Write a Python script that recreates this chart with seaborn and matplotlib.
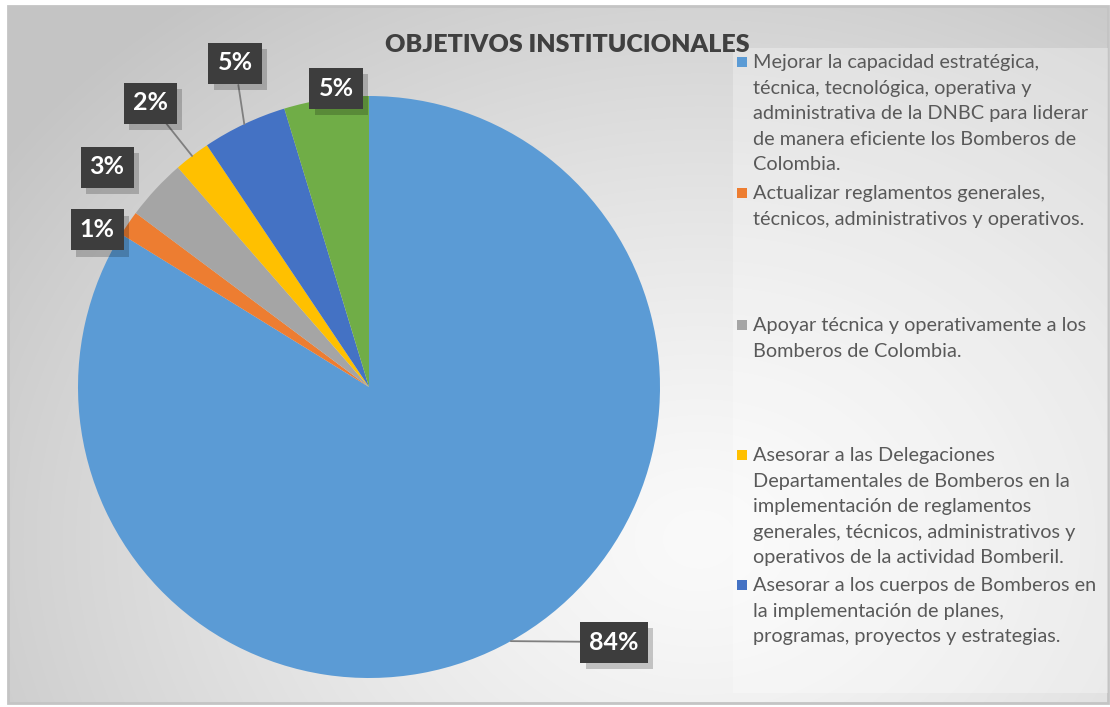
import numpy as np
import matplotlib
matplotlib.use("Agg")
import matplotlib.pyplot as plt
import matplotlib.patheffects as pe
from matplotlib.patches import Rectangle
import seaborn as sns

# ---------------- data ----------------
title = "OBJETIVOS INSTITUCIONALES"
categories = [
    "Mejorar la capacidad estratégica,\ntécnica, tecnológica, operativa y\nadministrativa de la DNBC para liderar\nde manera eficiente los Bomberos de\nColombia.",
    "Actualizar reglamentos generales,\ntécnicos, administrativos y operativos.",
    "Apoyar técnica y operativamente a los\nBomberos de Colombia.",
    "Asesorar a las Delegaciones\nDepartamentales de Bomberos en la\nimplementación de reglamentos\ngenerales, técnicos, administrativos y\noperativos de la actividad Bomberil.",
    "Asesorar a los cuerpos de Bomberos en\nla implementación de planes,\nprogramas, proyectos y estrategias.",
    "",
]
shares = [83.8, 1.4, 3.4, 2.0, 4.7, 4.7]
pct_labels = ["84%", "1%", "3%", "2%", "5%", "5%"]
colors_hex = ["#5B9BD5", "#ED7D31", "#A5A5A5", "#FFC000", "#4472C4", "#70AD47"]

# ---------------- style ----------------
sns.set_theme(style="white")
plt.rcParams["font.family"] = ["Lato", "DejaVu Sans"]
palette = sns.color_palette(colors_hex)

W, H = 1110, 707
fig = plt.figure(figsize=(W / 100, H / 100), dpi=100)
fig.patch.set_facecolor("white")

# background gradient
ax_bg = fig.add_axes([0, 0, 1, 1], zorder=-10)
ax_bg.set_xlim(0, W)
ax_bg.set_ylim(H, 0)
ax_bg.axis("off")
gx, gy = np.meshgrid(np.linspace(8, 1108, 400), np.linspace(6, 703, 300))
d = np.sqrt(((gx - 700) / 1000) ** 2 + ((gy - 540) / 800) ** 2)
d = np.clip(d / 0.85, 0, 1)
lo, hi = 0.98, 0.77
val = lo + (hi - lo) * d ** 1.3
img = np.dstack([val, val, val])
ax_bg.imshow(img, extent=[8, 1108, 703, 6], aspect="auto", interpolation="bilinear")
ax_bg.add_patch(Rectangle((8, 6), 1100, 697, fill=False, edgecolor="#c4c4c4", lw=2))
# legend backdrop
ax_bg.add_patch(Rectangle((733, 48), 375, 645, facecolor="white", alpha=0.3, lw=0))

# pie axes
cx, cy, R = 369, 387, 291
ax = fig.add_axes([(cx - R) / W, (H - cy - R) / H, 2 * R / W, 2 * R / H])
wedges, _ = ax.pie(shares, colors=palette, startangle=90, counterclock=False,
                   radius=1, wedgeprops=dict(linewidth=0))
ax.set_xlim(-1, 1)
ax.set_ylim(-1, 1)
ax.set_aspect("equal")
ax.axis("off")

# data labels (pixel positions of box centres) and leader lines
def px2d(px, py):
    return ((px - cx) / R, (cy - py) / R)

label_pos = [(614, 642), (97, 230), (107, 167), (150, 103), (235, 63), (336, 88)]
has_leader = [True, False, False, True, True, False]
for w, lab, pos, lead in zip(wedges, pct_labels, label_pos, has_leader):
    ang = np.deg2rad((w.theta1 + w.theta2) / 2)
    edge = (np.cos(ang), np.sin(ang))
    tx, ty = px2d(*pos)
    if lead:
        ax.annotate("", xy=edge, xytext=(tx, ty), xycoords="data",
                    arrowprops=dict(arrowstyle="-", color="#7f7f7f", lw=1.3,
                                    shrinkA=16, shrinkB=0), annotation_clip=False)
    t = ax.text(tx, ty, lab, ha="center", va="center", fontsize=18,
                fontweight="bold", color="white", clip_on=False,
                bbox=dict(boxstyle="square,pad=0.36", facecolor="#3d3d3d", lw=0))
    t.get_bbox_patch().set_path_effects(
        [pe.SimplePatchShadow(offset=(4, -5), shadow_rgbFace="black", alpha=0.2),
         pe.Normal()])

# title
fig.text(567 / W, 1 - 45 / H, title, ha="center", va="center", fontsize=18,
         fontweight="heavy", color="#404040")

# legend (manual, Excel-like spacing)
legend_top = [62, 193, 325, 455, 585]
for lab, col, ytop in zip(categories[:5], palette[:5], legend_top):
    ax_bg.add_patch(Rectangle((737, ytop - 5), 10, 10, facecolor=col, lw=0))
    ax_bg.text(753, ytop - 8, lab, ha="left", va="top", fontsize=14.3,
               color="#595959", linespacing=1.61)

fig.savefig("out.png", dpi=100)
